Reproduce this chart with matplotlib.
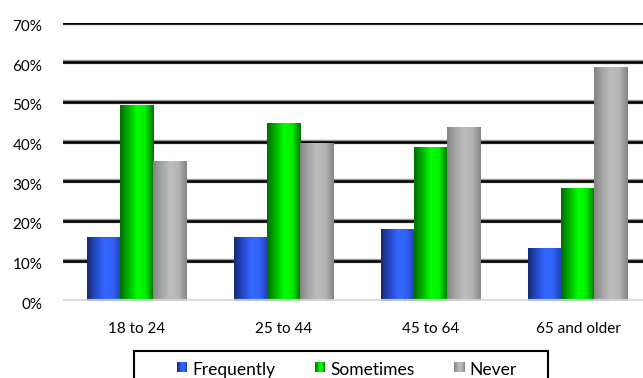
import numpy as np
import matplotlib
matplotlib.use("Agg")
import matplotlib.pyplot as plt
import matplotlib.transforms as mtransforms
from matplotlib.colors import LinearSegmentedColormap
from matplotlib.patches import Rectangle
from matplotlib.ticker import PercentFormatter

plt.rcParams['font.family'] = ['Lato', 'DejaVu Sans']

age_groups = ["18 to 24", "25 to 44", "45 to 64", "65 and older"]
series_names = ["Frequently", "Sometimes", "Never"]
frequently = [0.16, 0.16, 0.18, 0.133]
sometimes = [0.492, 0.447, 0.387, 0.283]
never = [0.351, 0.398, 0.437, 0.587]
y_ticks = [0, 0.1, 0.2, 0.3, 0.4, 0.5, 0.6, 0.7]

# left edge -> highlight -> right edge, for the cylinder-ish shading
shades = [
	["#172a72", "#2448c8", "#3366ff", "#3163f7", "#2140b4"],
	["#006e00", "#00b400", "#00ff00", "#00ee00", "#007400"],
	["#858585", "#a6a6a6", "#bdbdbd", "#b5b5b5", "#858585"],
]
cmaps = [LinearSegmentedColormap.from_list("s%d" % i, s) for i, s in enumerate(shades)]

W, H = 643, 378
fig = plt.figure(figsize=(W/100, H/100), dpi=100)
ax = fig.add_axes([63/W, 1-300.7/H, (651.5-63)/W, (300.7-22.5)/H])

x = np.arange(len(age_groups))
w = 0.225
grad = np.linspace(0, 1, 64).reshape(1, -1)

for i, vals in enumerate([frequently, sometimes, never]):
	bars = ax.bar(x + (i-1)*w, vals, w, color="none", zorder=3)
	for b in bars:
		im = ax.imshow(grad, cmap=cmaps[i], aspect="auto", zorder=3,
			extent=[b.get_x(), b.get_x()+b.get_width(), 0, b.get_height()])
		im.set_clip_path(b)

# doubled gridlines
for t in y_ticks[1:]:
	ax.axhline(t, color="#9a9a9a", lw=3.2, zorder=1)
	ax.axhline(t, color="black", lw=1.8, zorder=2)
ax.axhline(0, color="#d8d8d8", lw=3, alpha=0.85, zorder=4)

ax.set_xlim(-0.5, 3.5)
ax.set_ylim(0, 0.7)
ax.set_yticks(y_ticks)
ax.yaxis.set_major_formatter(PercentFormatter(1.0, decimals=0))
ax.set_xticks(x)
ax.set_xticklabels(age_groups)
ax.tick_params(length=0, labelsize=11, colors="black")
ax.tick_params(axis="y", pad=15)
ax.tick_params(axis="x", pad=15)
for s in ax.spines.values():
	s.set_visible(False)

# percent labels sit a little below their gridline
shift = mtransforms.ScaledTranslation(0, -2/72, fig.dpi_scale_trans)
for lbl in ax.get_yticklabels():
	lbl.set_transform(lbl.get_transform() + shift)

# legend box runs off the bottom edge
fig.patches.append(Rectangle((134/W, -0.05), (548-134)/W, 1.05-350.7/H,
	transform=fig.transFigure, facecolor="white", edgecolor="black", lw=1.5))

key_x = [177, 315, 454]
for i, name in enumerate(series_names):
	kax = fig.add_axes([key_x[i]/W, 1-372/H, 10/W, 10/H])
	kax.set_zorder(5)
	kax.imshow(grad, cmap=cmaps[i], aspect="auto")
	kax.axis("off")
	fig.text((key_x[i]+15)/W, 1-375/H, name, fontsize=12.5, va="baseline",
		ha="left", zorder=5)

fig.savefig("out.png", dpi=100)
